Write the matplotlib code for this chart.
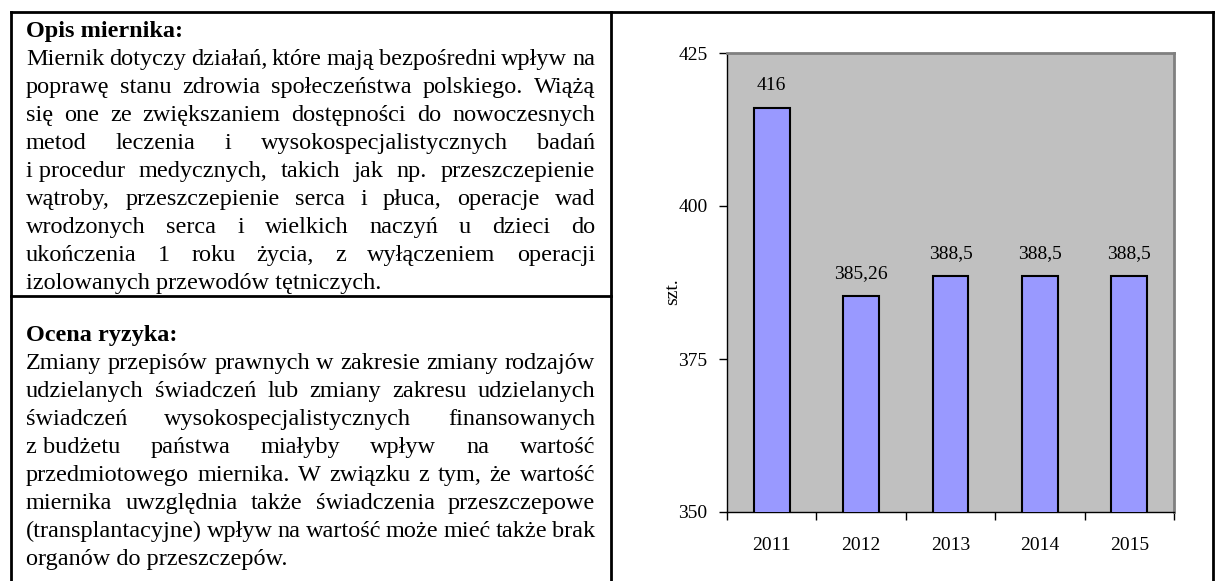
import matplotlib.pyplot as plt

# chart data
years = ['2011', '2012', '2013', '2014', '2015']
values = [416, 385.26, 388.5, 388.5, 388.5]
value_labels = ['416', '385,26', '388,5', '388,5', '388,5']
y_ticks = [350, 375, 400, 425]

# text of the left column (line breaks as in the original, \u00a0 = hard space)
opis_title = 'Opis miernika:'
opis_lines = [
    'Miernik dotyczy działań, które mają bezpośredni wpływ na',
    'poprawę stanu zdrowia społeczeństwa polskiego. Wiążą',
    'się one ze zwiększaniem dostępności do nowoczesnych',
    'metod leczenia i wysokospecjalistycznych badań',
    'i\u00a0procedur medycznych, takich jak np. przeszczepienie',
    'wątroby, przeszczepienie serca i płuca, operacje wad',
    'wrodzonych serca i wielkich naczyń u dzieci do',
    'ukończenia 1 roku życia, z wyłączeniem operacji',
    'izolowanych przewodów tętniczych.',
]
ryzyko_title = 'Ocena ryzyka:'
ryzyko_lines = [
    'Zmiany przepisów prawnych w zakresie zmiany rodzajów',
    'udzielanych świadczeń lub zmiany zakresu udzielanych',
    'świadczeń wysokospecjalistycznych finansowanych',
    'z\u00a0budżetu państwa miałyby wpływ na wartość',
    'przedmiotowego miernika. W związku z tym, że wartość',
    'miernika uwzględnia także świadczenia przeszczepowe',
    '(transplantacyjne) wpływ na wartość może mieć także brak',
    'organów do przeszczepów.',
]

plt.rcParams['font.family'] = ['Liberation Serif', 'DejaVu Serif']
FS = 17.5
CFS = 14

fig = plt.figure(figsize=(12.24, 5.81), dpi=100)

# full-page axes in pixel units for the table and text
page = fig.add_axes([0, 0, 1, 1])
page.set_xlim(0, 1224)
page.set_ylim(581, 0)
page.axis('off')

# table frame
for xs, ys in [([11, 1213], [12, 12]), ([11, 11], [12, 581]),
               ([611, 611], [12, 581]), ([1213, 1213], [12, 581]),
               ([11, 611], [296, 296])]:
    page.plot(xs, ys, color='black', lw=2, solid_capstyle='projecting')

renderer = fig.canvas.get_renderer()


def justified(lines, x0, x1, y0, step):
    for i, line in enumerate(lines):
        y = y0 + i * step
        if i == len(lines) - 1:
            page.text(x0, y, line, fontsize=FS, va='baseline', ha='left')
            continue
        words = line.split(' ')
        texts = [page.text(x0, y, w, fontsize=FS, va='baseline', ha='left')
                 for w in words]
        widths = [t.get_window_extent(renderer).width for t in texts]
        gap = (x1 - x0 - sum(widths)) / (len(words) - 1)
        x = x0
        for t, w in zip(texts, widths):
            t.set_x(x)
            x += w + gap


step = 28
page.text(26, 37, opis_title, fontsize=FS, fontweight='bold', va='baseline')
justified(opis_lines, 26, 595, 37 + step, step)
page.text(26, 341, ryzyko_title, fontsize=FS, fontweight='bold', va='baseline')
justified(ryzyko_lines, 26, 595, 341 + step, step)

# bar chart
ax = fig.add_axes([727 / 1224, 1 - 512 / 581, 447 / 1224, 459 / 581])
x = list(range(len(years)))
ax.bar(x, values, width=0.4, color='#9999FF', edgecolor='black', lw=1.5,
       zorder=3)
ax.set_xlim(-0.5, len(years) - 0.5)
ax.set_ylim(350, 425)
ax.set_facecolor('#C0C0C0')

for s in ['top', 'right']:
    ax.spines[s].set_color('#808080')
    ax.spines[s].set_linewidth(2)
for s in ['left', 'bottom']:
    ax.spines[s].set_color('black')
    ax.spines[s].set_linewidth(1)

ax.set_yticks(y_ticks)
ax.tick_params(axis='y', direction='out', length=6, width=1, pad=8,
               labelsize=CFS)
ax.set_xticks([i - 0.5 for i in range(len(years) + 1)])
ax.set_xticklabels([])
ax.set_xticks(x, minor=True)
ax.set_xticklabels(years, minor=True)
ax.tick_params(axis='x', which='major', direction='out', length=6, width=1)
ax.tick_params(axis='x', which='minor', length=0, pad=18, labelsize=CFS)

for xi, v, lab in zip(x, values, value_labels):
    ax.annotate(lab, (xi, v), xytext=(0, 10), textcoords='offset points',
                ha='center', va='bottom', fontsize=CFS)

ax.set_ylabel('szt.', fontsize=CFS)
ax.yaxis.set_label_coords(-0.103, 0.48)

fig.savefig('out.png', dpi=100)
